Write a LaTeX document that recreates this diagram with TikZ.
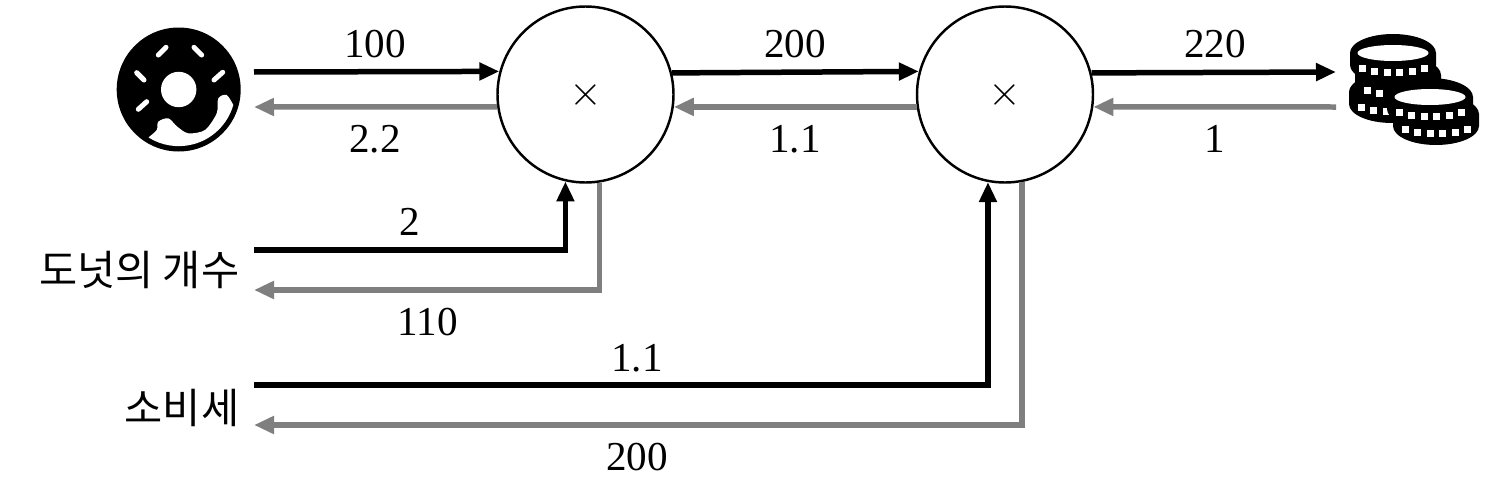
\documentclass[tikz,border=0pt]{standalone}
\usepackage{fontspec}
\usepackage{xcolor}
\usepackage{tikz}
\usetikzlibrary{arrows.meta}
\setmainfont{Liberation Serif}
\newfontfamily\krfont{Noto Sans CJK KR}
\definecolor{backgray}{RGB}{127,127,127}
\tikzset{
fwd/.style={draw=black,line width=0.055cm,-{Triangle[length=0.2cm,width=0.17cm]}},
bwd/.style={draw=backgray,line width=0.055cm,-{Triangle[length=0.2cm,width=0.17cm]}},
numlabel/.style={font=\fontsize{11.7}{14}\selectfont,inner sep=0pt},
krlabel/.style={font=\krfont\fontsize{11.8}{14}\selectfont,inner sep=0pt,anchor=east},
mulnode/.style={circle,draw=black,line width=0.7pt,minimum size=1.76cm,inner sep=0pt,font=\fontsize{13}{15}\selectfont},
}
\newcommand{\coinbody}[2]{
\fill[black](#1-0.43,#2)arc[start angle=180,end angle=0,x radius=0.43,y radius=0.19]--(#1+0.43,#2+0.12*-1)arc[start angle=0,end angle=-180,x radius=0.43,y radius=0.19]--cycle;
\foreach \dx in {-0.31,-0.19,-0.06,0.06,0.19,0.31}
\fill[white]({#1+\dx-0.035},{#2-0.195+0.045*(\dx/0.33)*(\dx/0.33)-0.035})rectangle++(0.07,0.07);
}
\newcommand{\coinface}[2]{
\fill[white](#1,#2)ellipse[x radius=0.355,y radius=0.08];
}
\begin{document}
\begin{tikzpicture}[>=stealth]
\useasboundingbox(0,0)rectangle(14.86,-4.85);
\node[circle,fill=black,minimum size=1.24cm,inner sep=0pt](donut)at(1.787,-0.895){};
\fill[white](donut.center)circle[radius=0.177];
\foreach \xa/\ya/\xb/\yb in {1.583/0.55/1.66/0.473,1.94/0.473/2.017/0.55,1.367/0.727/1.44/0.80,2.14/0.80/2.227/0.723,1.383/1.093/1.467/1.017}
\draw[white,line width=0.05cm,line cap=round](\xa,-\ya)--(\xb,-\yb);
\fill[white](2.333,-1.05)arc[start angle=-16,end angle=-122,radius=0.568]
--plot[smooth]coordinates{(1.493,-1.367)(1.567,-1.30)(1.583,-1.217)(1.683,-1.183)(1.773,-1.267)(1.883,-1.333)(2.05,-1.30)(2.167,-1.133)(2.183,-0.983)(2.267,-0.95)(2.333,-1.05)}--cycle;
\coinbody{13.92}{-0.92}
\coinbody{13.98}{-0.75}
\coinbody{13.93}{-0.53}
\coinface{13.93}{-0.53}
\coinbody{14.36}{-1.14}
\coinbody{14.30}{-0.97}
\coinface{14.30}{-0.97}
\node[mulnode](mula)at(5.855,-0.945){$\times$};
\node[mulnode](mulb)at(10.05,-0.945){$\times$};
\node[krlabel](count)at(2.40,-2.70){도넛의 개수};
\node[krlabel](tax)at(2.40,-4.08){소비세};
\coordinate(donutout)at(2.54,-0.72);
\coordinate(donutin)at(2.54,-1.07);
\coordinate(coinsin)at(13.36,-0.72);
\coordinate(coinsout)at(13.36,-1.07);
\coordinate(countout)at(2.54,-2.50);
\coordinate(countin)at(2.54,-2.90);
\coordinate(taxout)at(2.54,-3.85);
\coordinate(taxin)at(2.54,-4.25);
\draw[fwd](donutout)--(mula.165.2);
\draw[bwd](mula.188.1)--(donutin);
\draw[fwd](mula.14.8)--(mulb.165.2);
\draw[bwd](mulb.188.1)--(mula.-8.1);
\draw[fwd](mulb.14.8)--(coinsin);
\draw[bwd](coinsout)--(mulb.-8.1);
\draw[fwd](countout)-|(mula.257.7);
\draw[bwd](mula.279)|-(countin);
\draw[fwd](taxout)-|(mulb.259.6);
\draw[bwd](mulb.281.7)|-(taxin);
\node[numlabel](fa)at(3.75,-0.44){100};
\node[numlabel](ba)at(3.75,-1.39){2.2};
\node[numlabel](fb)at(7.95,-0.44){200};
\node[numlabel](bb)at(7.95,-1.39){1.1};
\node[numlabel](fc)at(12.15,-0.44){220};
\node[numlabel](bc)at(12.15,-1.39){1};
\node[numlabel](fd)at(4.10,-2.22){2};
\node[numlabel](bd)at(4.28,-3.22){110};
\node[numlabel](fe)at(6.37,-3.58){1.1};
\node[numlabel](be)at(6.37,-4.57){200};
\end{tikzpicture}
\end{document}
